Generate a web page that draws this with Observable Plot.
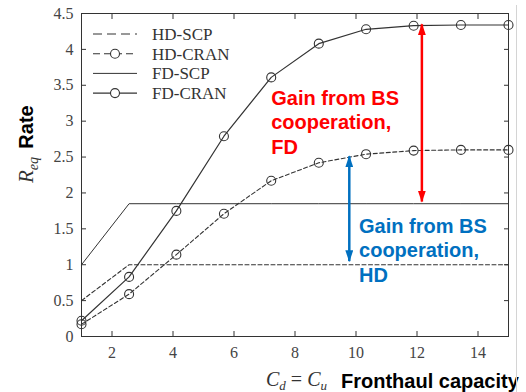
<!DOCTYPE html>
<html><head><meta charset="utf-8">
<script src="https://cdn.jsdelivr.net/npm/d3@7"></script>
<script src="https://cdn.jsdelivr.net/npm/@observablehq/plot@0.6"></script>
<style>body{margin:0;background:#fff;} #chart{width:526px;height:392px;overflow:hidden;}</style>
</head><body><div id="chart"></div>
<script>
// ---- data ----
const capacity = [1, 2.56, 4.11, 5.67, 7.22, 8.78, 10.33, 11.89, 13.44, 15];
const hdScp  = [0.50, 1.00, 1.00, 1.00, 1.00, 1.00, 1.00, 1.00, 1.00, 1.00];
const hdCran = [0.17, 0.59, 1.14, 1.71, 2.17, 2.42, 2.54, 2.59, 2.60, 2.60];
const fdScp  = [1.00, 1.85, 1.85, 1.85, 1.85, 1.85, 1.85, 1.85, 1.85, 1.85];
const fdCran = [0.22, 0.83, 1.75, 2.79, 3.61, 4.08, 4.28, 4.33, 4.34, 4.34];
const seriesNames = ["HD-SCP", "HD-CRAN", "FD-SCP", "FD-CRAN"];
const xTicks = [2, 4, 6, 8, 10, 12, 14];
const yTicks = [0, 0.5, 1, 1.5, 2, 2.5, 3, 3.5, 4, 4.5];
// annotations (data units)
const gainLabels = ["Gain from BS\ncooperation,\nFD", "Gain from BS\ncooperation,\nHD"];
const gainColors = ["#ff0000", "#0070c0"];
const gainArrowX = [12.16, 9.78];
const gainArrowTop = [4.35, 2.51];
const gainArrowBottom = [1.88, 1.05];
const gainLabelX = [7.22, 10.1];
const gainLabelY = [3.47, 1.685];

const rows = (name, vals) => capacity.map((c, i) => ({c, v: vals[i], s: name}));
const hdScpRows = rows(seriesNames[0], hdScp);
const hdCranRows = rows(seriesNames[1], hdCran);
const fdScpRows = rows(seriesNames[2], fdScp);
const fdCranRows = rows(seriesNames[3], fdCran);
const arrows = gainColors.map((col, i) => ({x: gainArrowX[i], top: gainArrowTop[i], bottom: gainArrowBottom[i], color: col}));
const notes = gainLabels.map((t, i) => ({x: gainLabelX[i], y: gainLabelY[i], text: t, color: gainColors[i]}));

const ink = "#333";
const dash = "4,2.5";
const blank = () => "";

const plot = Plot.plot({
  width: 526, height: 392,
  marginLeft: 81, marginRight: 18, marginTop: 13, marginBottom: 56,
  x: {domain: [1, 15], label: null},
  y: {domain: [0, 4.5], label: null},
  style: {fontFamily: "'Liberation Serif', serif", fontSize: "16px", color: "#444", background: "white"},
  marks: [
    Plot.line(hdScpRows, {x: "c", y: "v", stroke: ink, strokeWidth: 1.1, strokeDasharray: dash}),
    Plot.line(hdCranRows, {x: "c", y: "v", stroke: ink, strokeWidth: 1.1, strokeDasharray: dash}),
    Plot.dot(hdCranRows, {x: "c", y: "v", r: 4.5, stroke: ink, strokeWidth: 1.1, fill: "none"}),
    Plot.line(fdScpRows, {x: "c", y: "v", stroke: ink, strokeWidth: 1}),
    Plot.line(fdCranRows, {x: "c", y: "v", stroke: ink, strokeWidth: 1.2}),
    Plot.dot(fdCranRows, {x: "c", y: "v", r: 4.5, stroke: ink, strokeWidth: 1.1, fill: "none"}),
    Plot.link([arrows[0]], {x1: "x", x2: "x", y1: "top", y2: "bottom", stroke: gainColors[0], strokeWidth: 2.5}),
    Plot.link([arrows[1]], {x1: "x", x2: "x", y1: "top", y2: "bottom", stroke: gainColors[1], strokeWidth: 2.5}),
    Plot.text(notes, {x: "x", y: "y", text: "text", fill: "color", fontFamily: "'Liberation Sans', Arial, sans-serif", fontWeight: "bold", fontSize: 20, textAnchor: "start", lineAnchor: "top", lineHeight: 1.225}),
    Plot.frame({stroke: ink, strokeWidth: 1}),
    Plot.axisX({anchor: "bottom", ticks: xTicks, tickSize: -5, stroke: ink, tickFormat: blank, label: null}),
    Plot.axisX({anchor: "top", ticks: xTicks, tickSize: -5, stroke: ink, tickFormat: blank, label: null}),
    Plot.axisX({anchor: "bottom", ticks: xTicks, tickSize: 0, tickPadding: 10, tickFormat: d => String(d), label: null}),
    Plot.axisY({anchor: "left", ticks: yTicks, tickSize: -5, stroke: ink, tickFormat: blank, label: null}),
    Plot.axisY({anchor: "right", ticks: yTicks, tickSize: -5, stroke: ink, tickFormat: blank, label: null}),
    Plot.axisY({anchor: "left", ticks: yTicks, tickSize: 0, tickPadding: 8, tickFormat: d => String(d), label: null})
  ]
});
document.getElementById("chart").append(plot);

const svg = d3.select(plot);
// arrowheads
const defs = svg.append("defs");
gainColors.forEach((col, i) => {
  defs.append("marker").attr("id", "gainhead" + i)
    .attr("markerUnits", "userSpaceOnUse").attr("markerWidth", 12).attr("markerHeight", 8)
    .attr("viewBox", "0 0 12 8").attr("refX", 11).attr("refY", 4)
    .attr("orient", "auto-start-reverse")
    .append("path").attr("d", "M0,0L12,4L0,8Z").attr("fill", col);
  svg.selectAll("path, line").filter(function () {
    let el = this;
    while (el && el !== plot) {
      const s = el.getAttribute && el.getAttribute("stroke");
      if (s) return s.toLowerCase() === col;
      el = el.parentNode;
    }
    return false;
  }).attr("marker-start", `url(#gainhead${i})`).attr("marker-end", `url(#gainhead${i})`);
});

// legend
const lg = svg.append("g").attr("font-family", "'Liberation Serif', serif").attr("font-size", 17)
  .attr("fill", "#333").attr("text-anchor", "start");
const legendRows = [
  {name: seriesNames[0], dashed: true, marker: false, w: 1.1},
  {name: seriesNames[1], dashed: true, marker: true, w: 1.1},
  {name: seriesNames[2], dashed: false, marker: false, w: 1},
  {name: seriesNames[3], dashed: false, marker: true, w: 1.2}
];
legendRows.forEach((r, i) => {
  const y = 34 + i * 19.7;
  lg.append("line").attr("x1", 93).attr("x2", 137).attr("y1", y).attr("y2", y)
    .attr("stroke", ink).attr("stroke-width", r.w).attr("stroke-dasharray", r.dashed ? (r.marker ? "7,4" : "9,5") : null);
  if (r.marker) lg.append("circle").attr("cx", 115).attr("cy", y).attr("r", 4.5)
    .attr("fill", "white").attr("stroke", ink).attr("stroke-width", 1.1);
  lg.append("text").attr("x", 152).attr("y", y + 6).text(r.name);
});

// axis titles
const sans = "'Liberation Sans', Arial, sans-serif";
const serif = "'Liberation Serif', serif";
svg.append("text").attr("transform", "translate(33,127) rotate(-90)").attr("text-anchor", "middle")
  .attr("font-family", sans).attr("font-weight", "bold").attr("font-size", 20).attr("fill", "#000").text("Rate");
const req = svg.append("text").attr("transform", "translate(33,170) rotate(-90)").attr("text-anchor", "middle")
  .attr("font-family", serif).attr("font-style", "italic").attr("font-size", 21).attr("fill", "#333");
req.append("tspan").text("R");
req.append("tspan").attr("font-size", 14).attr("dy", 5).text("eq");

const xl = svg.append("text").attr("x", 266).attr("y", 386).attr("text-anchor", "start")
  .attr("font-family", serif).attr("font-size", 20).attr("fill", "#333");
xl.append("tspan").attr("font-style", "italic").text("C");
xl.append("tspan").attr("font-style", "italic").attr("font-size", 13).attr("dy", 4).text("d");
xl.append("tspan").attr("dy", -4).text(" = ");
xl.append("tspan").attr("font-style", "italic").text("C");
xl.append("tspan").attr("font-style", "italic").attr("font-size", 13).attr("dy", 4).text("u");
svg.append("text").attr("x", 341).attr("y", 388).attr("text-anchor", "start")
  .attr("font-family", sans).attr("font-weight", "bold").attr("font-size", 20).attr("fill", "#000").text("Fronthaul capacity");

// slide edge line at right
svg.append("line").attr("x1", 516.5).attr("x2", 516.5).attr("y1", 5).attr("y2", 392)
  .attr("stroke", "#d4d4d4").attr("stroke-width", 1);
</script>
</body></html>
